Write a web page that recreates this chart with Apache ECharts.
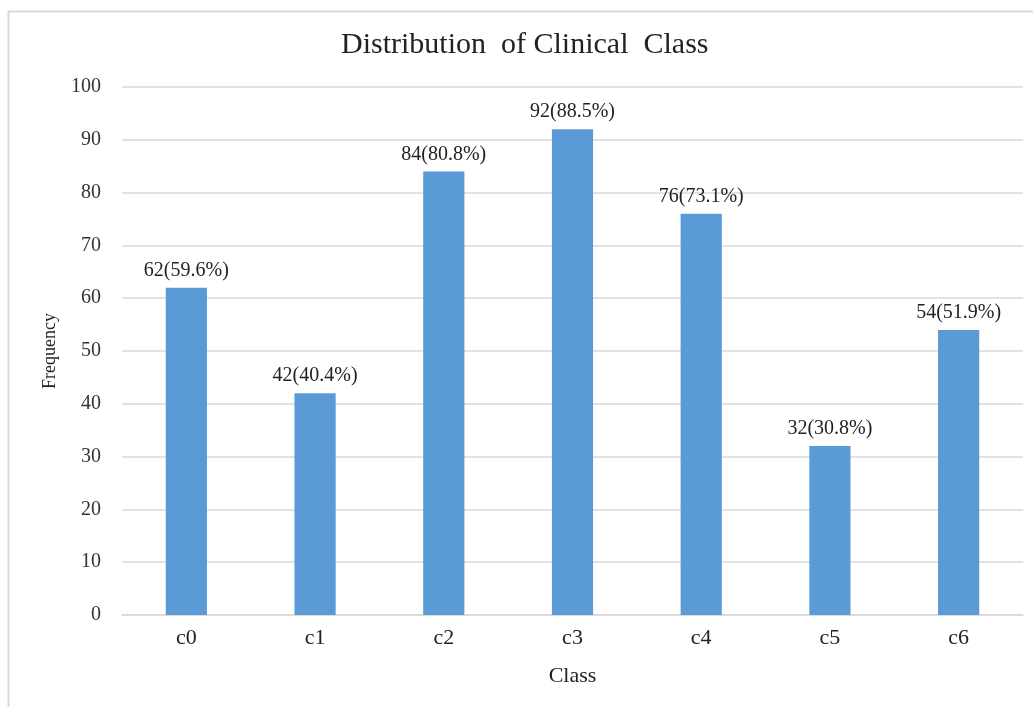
<!DOCTYPE html>
<html>
<head>
<meta charset="utf-8">
<script src="https://cdn.jsdelivr.net/npm/echarts@6/dist/echarts.min.js"></script>
<style>
  html, body { margin: 0; padding: 0; background: #fff; }
  #chart { width: 1033px; height: 707px; }
</style>
</head>
<body>
<div id="chart"></div>
<script>
// Clinical class counts and their share of the cohort
const classes = ['c0', 'c1', 'c2', 'c3', 'c4', 'c5', 'c6'];
const counts = [62, 42, 84, 92, 76, 32, 54];
const percents = ['59.6', '40.4', '80.8', '88.5', '73.1', '30.8', '51.9'];
const yTicks = [0, 10, 20, 30, 40, 50, 60, 70, 80, 90, 100];

const serif = '"Liberation Serif", "Times New Roman", serif';
const chart = echarts.init(document.getElementById('chart'), null, { renderer: 'canvas' });

chart.setOption({
  animation: false,
  backgroundColor: '#fff',
  graphic: [{
    type: 'rect',
    left: 6, top: 9,
    shape: { width: 1200, height: 900 },
    style: { fill: 'none', stroke: '#d9d9d9', lineWidth: 2 },
    silent: true
  }],
  title: {
    text: 'Distribution  of Clinical  Class',
    left: 341,
    top: 25,
    padding: [5, 0, 5, 0],
    textStyle: { fontFamily: serif, fontSize: 30, fontWeight: 'normal', color: '#222' }
  },
  grid: { left: 122, right: 10, top: 87, bottom: 92 },
  xAxis: {
    type: 'category',
    data: classes,
    name: 'Class',
    nameLocation: 'middle',
    nameGap: 50,
    nameTextStyle: { fontFamily: serif, fontSize: 22, color: '#222' },
    axisLine: { lineStyle: { color: '#d9d9d9', width: 1.5 } },
    axisTick: { show: false },
    axisLabel: { fontFamily: serif, fontSize: 22, color: '#222', margin: 12 }
  },
  yAxis: {
    type: 'value',
    min: yTicks[0],
    max: yTicks[yTicks.length - 1],
    interval: yTicks[1] - yTicks[0],
    name: 'Frequency',
    nameLocation: 'middle',
    nameGap: 63,
    nameTextStyle: { fontFamily: serif, fontSize: 18, color: '#222' },
    axisLine: { show: false },
    axisTick: { show: false },
    axisLabel: { fontFamily: serif, fontSize: 20, color: '#333', margin: 21 },
    splitLine: { lineStyle: { color: '#d9d9d9', width: 1.5 } }
  },
  series: [{
    type: 'bar',
    data: counts,
    barWidth: '32%',
    itemStyle: { color: '#5B9BD5' },
    label: {
      show: true,
      position: 'top',
      distance: 7,
      fontFamily: serif,
      fontSize: 20,
      color: '#222',
      formatter: p => counts[p.dataIndex] + '(' + percents[p.dataIndex] + '%)'
    }
  }]
});
</script>
</body>
</html>
